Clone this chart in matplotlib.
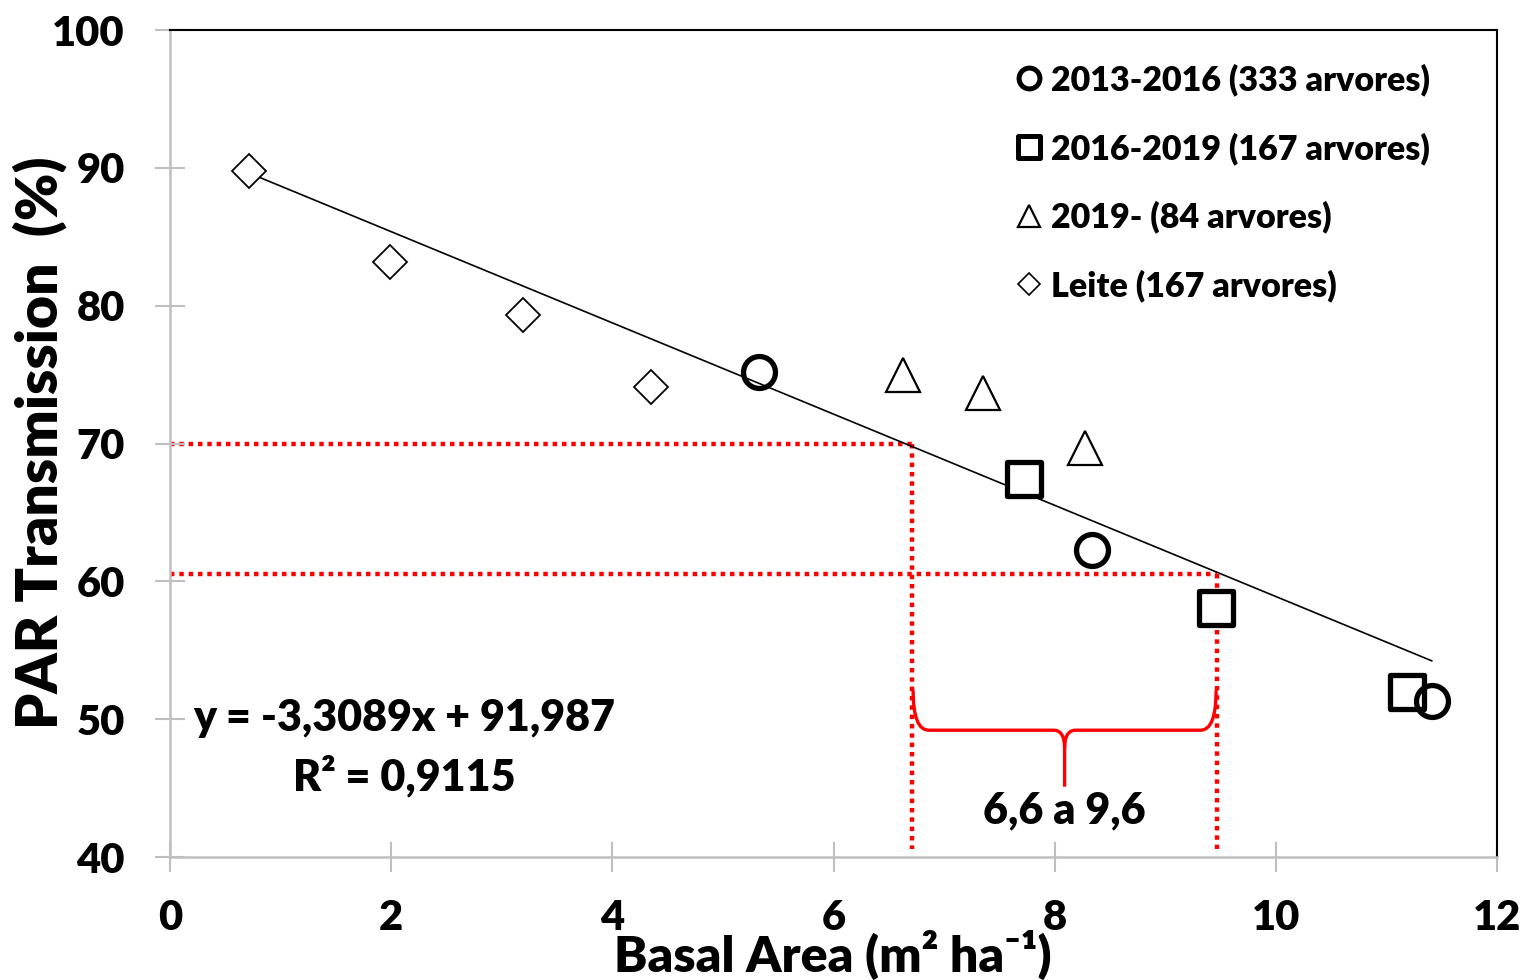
import matplotlib
matplotlib.use("Agg")
import matplotlib.pyplot as plt
from matplotlib.path import Path
from matplotlib.patches import PathPatch
from matplotlib.lines import Line2D
from matplotlib.markers import MarkerStyle
import numpy as np

plt.rcParams['font.family'] = ['Lato', 'DejaVu Sans']
W = 'heavy'
plt.rcParams['font.weight'] = W

# ---- data ----
leite_x = [0.71, 1.99, 3.19, 4.35]
leite_y = [89.8, 83.2, 79.3, 74.1]
c1316_x = [5.33, 8.34, 11.41]
c1316_y = [75.2, 62.3, 51.3]
s1619_x = [7.72, 9.46, 11.19]
s1619_y = [67.4, 58.1, 52.0]
t2019_x = [6.63, 7.35, 8.27]
t2019_y = [75.0, 73.7, 69.7]
slope, intercept = -3.3089, 91.987
r2 = 0.9115
ref_y = [70.0, 60.5]
ref_x = [6.71, 9.47]
labels = ["2013-2016 (333 arvores)", "2016-2019 (167 arvores)",
          "2019- (84 arvores)", "Leite (167 arvores)"]
xticks = [0, 2, 4, 6, 8, 10, 12]
yticks = [40, 50, 60, 70, 80, 90, 100]

fig = plt.figure(figsize=(15.25, 9.8), dpi=100)
ax = fig.add_axes([170/1525, 1-857/980, (1497-170)/1525, (857-30)/980])
ax.set_xlim(0, 12)
ax.set_ylim(40, 100)

# trend line
all_x = leite_x + c1316_x + s1619_x + t2019_x
xl = np.array([min(all_x), max(all_x)])
ax.plot(xl, slope*xl + intercept, color='black', lw=1.2, zorder=2)

# red dotted reference lines
red = '#FF0000'
dot = (0, (1, 1.1))
for yy, xx in zip(ref_y, ref_x):
    ax.plot([0, xx], [yy, yy], color=red, lw=3.2, linestyle=dot, zorder=1)
    ax.plot([xx, xx], [yy, 40.6], color=red, lw=3.2, linestyle=dot, zorder=1)

# brace
xl0, xr0 = 6.72, 9.46
xm = (xl0 + xr0) / 2
yb, ytop, ytip = 49.2, 52.1, 45.1
verts = [(xl0, ytop), (xl0, yb), (xl0 + 0.14, yb),
         (xm - 0.1, yb),
         (xm, yb), (xm, yb - 1.3),
         (xm, ytip),
         (xm, yb - 1.3),
         (xm, yb), (xm + 0.1, yb),
         (xr0 - 0.14, yb),
         (xr0, yb), (xr0, ytop)]
codes = [Path.MOVETO, Path.CURVE3, Path.CURVE3,
         Path.LINETO,
         Path.CURVE3, Path.CURVE3,
         Path.LINETO,
         Path.MOVETO,
         Path.CURVE3, Path.CURVE3,
         Path.LINETO,
         Path.CURVE3, Path.CURVE3]
ax.add_patch(PathPatch(Path(verts, codes), fill=False, edgecolor=red, lw=2.4, zorder=3))
ax.text(xm, 43.4, "6,6 a 9,6", ha='center', va='center', fontsize=31, fontweight=W)

# markers
sq = MarkerStyle('s', joinstyle='round')
ax.plot(leite_x, leite_y, linestyle='none', marker='D', ms=17, mfc='white', mec='black', mew=1.3, zorder=4)
ax.plot(t2019_x, t2019_y, linestyle='none', marker='^', ms=25, mfc='white', mec='black', mew=1.6, zorder=4)
ax.plot(s1619_x, s1619_y, linestyle='none', marker=sq, ms=25, mfc='white', mec='black', mew=3.8, zorder=4)
ax.plot(c1316_x, c1316_y, linestyle='none', marker='o', ms=23, mfc='none', mec='black', mew=3.8, zorder=5)

# equation
ax.text(2.12, 50.1, "y = -3,3089x + 91,987", ha='center', va='center', fontsize=31, fontweight=W)
ax.text(2.12, 45.9, "R² = 0,9115", ha='center', va='center', fontsize=31, fontweight=W)

# legend
handles = [
    Line2D([], [], linestyle='none', marker='o', ms=15, mfc='none', mec='black', mew=3.6),
    Line2D([], [], linestyle='none', marker=MarkerStyle('s', joinstyle='round'), ms=16, mfc='none', mec='black', mew=3.6),
    Line2D([], [], linestyle='none', marker='^', ms=16, mfc='none', mec='black', mew=1.6),
    Line2D([], [], linestyle='none', marker='D', ms=11, mfc='none', mec='black', mew=1.2),
]
leg = ax.legend(handles, labels, loc='upper left', bbox_to_anchor=((1002-170)/1327, 1 - (50-30)/827),
                frameon=False, prop={'family': ['Lato', 'DejaVu Sans'], 'weight': W, 'size': 24.5},
                handlelength=0.8, handletextpad=0.25, labelspacing=1.05, borderaxespad=0)

# axes styling
grey = '#BFBFBF'
ax.spines['left'].set_color(grey)
ax.spines['bottom'].set_color(grey)
ax.spines['left'].set_linewidth(1.8)
ax.spines['bottom'].set_linewidth(1.8)
ax.spines['top'].set_color('black')
ax.spines['right'].set_color('black')
ax.spines['top'].set_linewidth(1.5)
ax.spines['right'].set_linewidth(1.5)
ax.set_xticks(xticks)
ax.set_yticks(yticks)
ax.set_xticklabels([str(t) for t in xticks])
ax.set_yticklabels([str(t) for t in yticks])
ax.tick_params(axis='both', direction='inout', length=21, width=1.5, color=grey,
               labelsize=30, top=False, right=False)
ax.tick_params(axis='y', pad=22)
ax.tick_params(axis='x', pad=20)
for lab in ax.get_xticklabels() + ax.get_yticklabels():
    lab.set_fontweight(W)

fig.text(40/1525, 1-443/980, "PAR Transmission  (%)", rotation=90, ha='center', va='center',
         fontsize=41, fontweight=W)
fig.text(833/1525, 1-955/980, "Basal Area (m² ha⁻¹)", ha='center', va='center',
         fontsize=36, fontweight=W)

fig.savefig("out.png", dpi=100, facecolor='white')
